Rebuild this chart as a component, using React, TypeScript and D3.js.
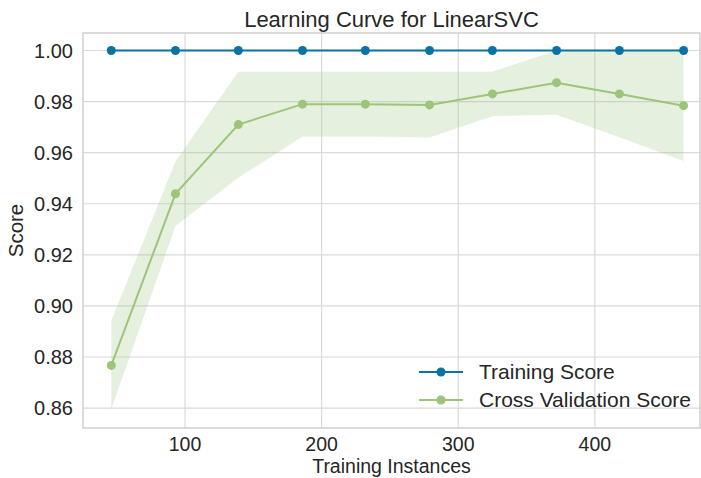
import React from 'react';
import * as d3 from 'd3';

const trainSizes = [46, 93, 139, 186, 232, 279, 325, 372, 418, 465];
const trainScores = [1, 1, 1, 1, 1, 1, 1, 1, 1, 1];
const cvScores = [0.8767, 0.9439, 0.971, 0.979, 0.979, 0.9787, 0.983, 0.9874, 0.983, 0.9784];
const cvUpper = [0.8942, 0.9565, 0.9917, 0.9917, 0.9917, 0.9917, 0.9917, 1.0, 1.0, 1.0];
const cvLower = [0.8596, 0.9313, 0.9502, 0.9663, 0.9663, 0.9659, 0.9743, 0.9748, 0.966, 0.9567];
const xTicks = [100, 200, 300, 400];
const yTicks = [0.86, 0.88, 0.9, 0.92, 0.94, 0.96, 0.98, 1.0];

const W = 701;
const H = 478;
const margin = { top: 33, right: 1, bottom: 50, left: 83 };
const blue = '#0a72a4';
const green = '#9cc57a';
const font = '"Liberation Sans", Arial, sans-serif';

const App = () => {
  const x = d3.scaleLinear().domain([25.3, 477]).range([margin.left, W - margin.right]);
  const y = d3.scaleLinear().domain([0.8522, 1.00685]).range([H - margin.bottom, margin.top]);

  const idx = trainSizes.map((_, i) => i);
  const band = d3.area<number>()
    .x(i => x(trainSizes[i]))
    .y0(i => y(cvLower[i]))
    .y1(i => y(cvUpper[i]));
  const trainLine = d3.line<number>().x(i => x(trainSizes[i])).y(i => y(trainScores[i]));
  const cvLine = d3.line<number>().x(i => x(trainSizes[i])).y(i => y(cvScores[i]));

  const x0 = margin.left;
  const x1 = W - margin.right;
  const y0 = H - margin.bottom;
  const y1 = margin.top;

  return (
    <svg width={W} height={H} style={{ position: 'absolute', left: 0, top: 0, background: '#fff' }} fontFamily={font}>
      <rect x={0} y={0} width={W} height={H} fill="#fff" />
      {/* grid */}
      {xTicks.map(t => (
        <line key={'gx' + t} x1={x(t)} x2={x(t)} y1={y1} y2={y0} stroke="#dadada" strokeWidth={1.2} />
      ))}
      {yTicks.map(t => (
        <line key={'gy' + t} x1={x0} x2={x1} y1={y(t)} y2={y(t)} stroke="#dadada" strokeWidth={1.2} />
      ))}
      {/* spines */}
      <rect x={x0} y={y1} width={x1 - x0} height={y0 - y1} fill="none" stroke="#cfcfcf" strokeWidth={1.5} />

      {/* band */}
      <path d={band(idx) || ''} fill={green} fillOpacity={0.25} stroke="none" />

      <path d={trainLine(idx) || ''} fill="none" stroke={blue} strokeWidth={2} />
      {idx.map(i => (
        <circle key={'t' + i} cx={x(trainSizes[i])} cy={y(trainScores[i])} r={4.5} fill={blue} />
      ))}
      <path d={cvLine(idx) || ''} fill="none" stroke={green} strokeWidth={2} />
      {idx.map(i => (
        <circle key={'c' + i} cx={x(trainSizes[i])} cy={y(cvScores[i])} r={4.5} fill={green} />
      ))}

      {/* tick labels */}
      {xTicks.map(t => (
        <text key={'tx' + t} x={x(t)} y={y0 + 23} textAnchor="middle" fontSize={19.5} fill="#262626">{t}</text>
      ))}
      {yTicks.map(t => (
        <text key={'ty' + t} x={x0 - 10} y={y(t)} dy="0.36em" textAnchor="end" fontSize={20} fill="#262626">{d3.format('.2f')(t)}</text>
      ))}

      {/* labels */}
      <text x={(x0 + x1) / 2} y={27} textAnchor="middle" fontSize={22} fill="#262626">Learning Curve for LinearSVC</text>
      <text x={(x0 + x1) / 2} y={473} textAnchor="middle" fontSize={19.5} fill="#262626">Training Instances</text>
      <text transform={`translate(23, ${(y0 + y1) / 2}) rotate(-90)`} textAnchor="middle" fontSize={20.5} fill="#262626">Score</text>

      {/* legend */}
      <g>
        <line x1={419} x2={463} y1={372} y2={372} stroke={blue} strokeWidth={2} />
        <circle cx={441} cy={372} r={4.5} fill={blue} />
        <text x={479} y={379} fontSize={21} fill="#262626">Training Score</text>
        <line x1={419} x2={463} y1={400} y2={400} stroke={green} strokeWidth={2} />
        <circle cx={441} cy={400} r={4.5} fill={green} />
        <text x={479} y={407} fontSize={21} fill="#262626">Cross Validation Score</text>
      </g>
    </svg>
  );
};

export default App;
